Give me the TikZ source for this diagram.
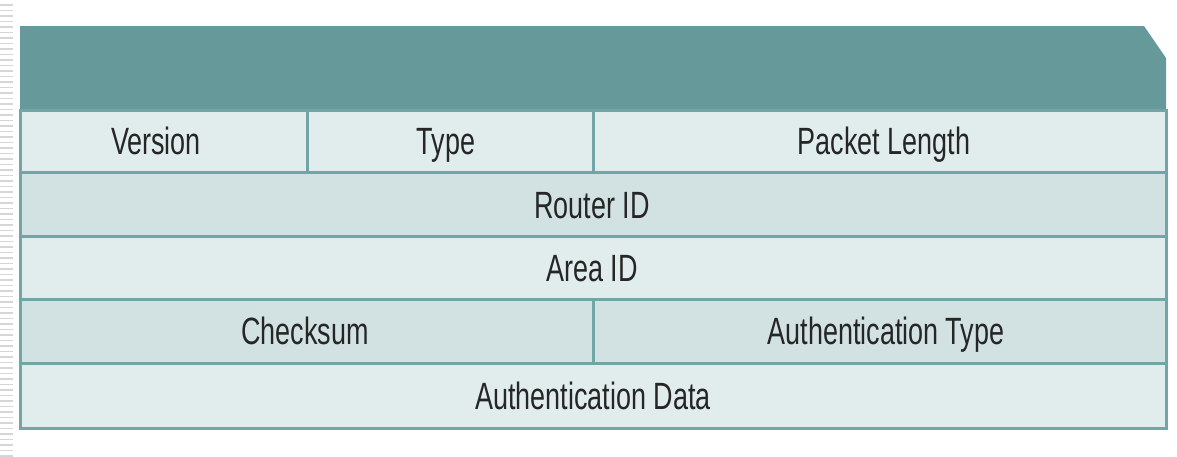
\documentclass[tikz,border=0pt]{standalone}
\usepackage{fontspec}
\newfontfamily\fieldfont[FakeStretch=0.71]{Liberation Sans}
\definecolor{headteal}{HTML}{669999}
\definecolor{rowlight}{HTML}{E1ECEC}
\definecolor{rowdark}{HTML}{D2E2E2}
\definecolor{gridteal}{HTML}{72A5A5}
\definecolor{margingray}{HTML}{D6D6D6}
\tikzset{
  grid line/.style={draw=gridteal, line width=1.5pt},
  field/.style={font=\fieldfont\fontsize{19}{22}\selectfont, text=black!85,
    inner sep=0pt, text height=13.6pt, text depth=0pt}
}

\begin{document}
\begin{tikzpicture}[x=0.5pt, y=-0.5pt]
            \useasboundingbox (0,0) rectangle (1177,456);
            % margin rule marks
            \foreach \yy in {5,10.5,...,456} \draw[margingray, line width=0.6pt] (0,\yy) -- (13,\yy);

            % header bar with cut corner
            \fill[headteal] (20,26) -- (1144,26) -- (1166,58) -- (1166,110) -- (20,110) -- cycle;

            % row fills
            \fill[rowlight] (20,110) rectangle (1166,172);
            \fill[rowdark]  (20,172) rectangle (1166,236);
            \fill[rowlight] (20,236) rectangle (1166,299);
            \fill[rowdark]  (20,299) rectangle (1166,363);
            \fill[rowlight] (20,363) rectangle (1166,428);

            % grid
            \draw[grid line] (20,110) rectangle (1166,428);
            \foreach \yy in {172,236,299,363} \draw[grid line] (20,\yy) -- (1166,\yy);
            \draw[grid line] (307,110) -- (307,172);
            \draw[grid line] (593,110) -- (593,172);
            \draw[grid line] (593,299) -- (593,363);

            % field labels
            \node[field] (version) at (156,141) {Version};
            \node[field] (type)    at (446,141) {Type};
            \node[field] (pktlen)  at (884,141) {Packet Length};
            \node[field] (router)  at (592,205) {Router ID};
            \node[field] (area)    at (592,268) {Area ID};
            \node[field] (chksum)  at (305,331) {Checksum};
            \node[field] (authtype) at (886,331) {Authentication Type};
            \node[field] (authdata) at (593,396) {Authentication Data};
        \end{tikzpicture}
\end{document}
